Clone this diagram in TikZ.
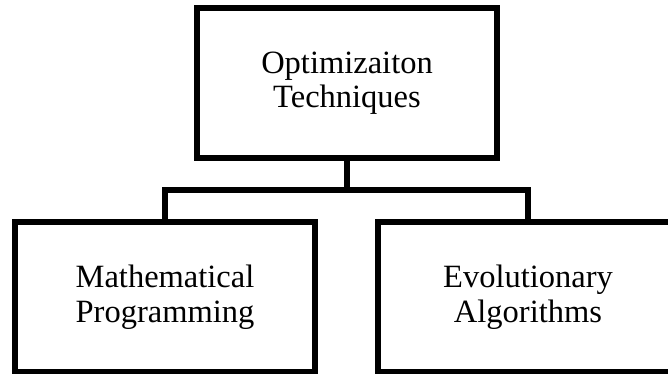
\documentclass[tikz,border=0pt]{standalone}
\usepackage{fontspec}
\setmainfont{Liberation Serif}
\begin{document}
\begin{tikzpicture}[x=1pt,y=-1pt,
  box/.style={draw=black, line width=5.5pt, minimum width=300pt, minimum height=150pt,
    inner sep=0pt, align=center, font=\fontsize{32.5}{34.5}\selectfont},
  link/.style={draw=black, line width=5.5pt}]
\useasboundingbox (0,0) rectangle (668,373);
\clip (0,0) rectangle (668,373);
\node[box] (top) at (347,83) {Optimizaiton\\Techniques};
\node[box] (math) at (165,297) {Mathematical\\Programming};
\node[box] (evo) at (528,297) {Evolutionary\\Algorithms};
\coordinate (hub) at (347,190);
\draw[link] (top.south) -- (hub);
\draw[link] (math.north) |- (hub) -| (evo.north);
\end{tikzpicture}
\end{document}
